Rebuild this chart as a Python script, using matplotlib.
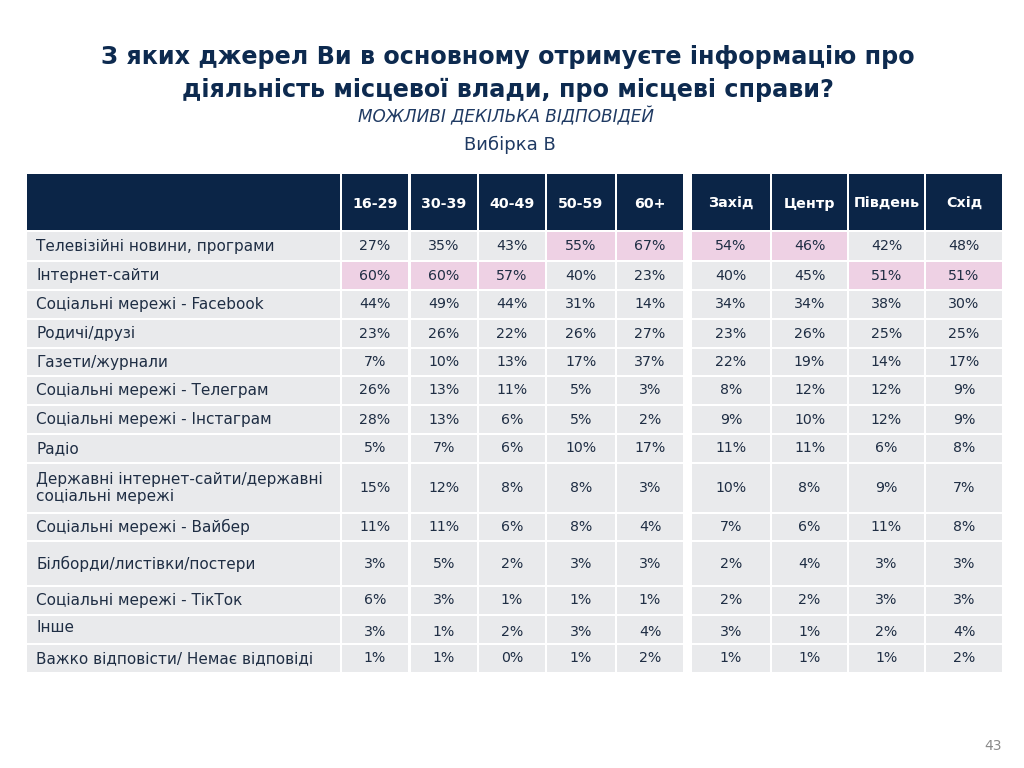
import matplotlib
matplotlib.use("Agg")
import matplotlib.pyplot as plt
from matplotlib.patches import Rectangle

plt.rcParams['font.family'] = ['DejaVu Sans']

# ---------------- data ----------------
title = "З яких джерел Ви в основному отримуєте інформацію про\nдіяльність місцевої влади, про місцеві справи?"
subtitle = "МОЖЛИВІ ДЕКІЛЬКА ВІДПОВІДЕЙ"
sample = "Вибірка В"
page_no = "43"

categories = [
    "Телевізійні новини, програми",
    "Інтернет-сайти",
    "Соціальні мережі - Facebook",
    "Родичі/друзі",
    "Газети/журнали",
    "Соціальні мережі - Телеграм",
    "Соціальні мережі - Інстаграм",
    "Радіо",
    "Державні інтернет-сайти/державні\nсоціальні мережі",
    "Соціальні мережі - Вайбер",
    "Білборди/листівки/постери",
    "Соціальні мережі - ТікТок",
    "Інше",
    "Важко відповісти/ Немає відповіді",
]

age_groups = ["16-29", "30-39", "40-49", "50-59", "60+"]
regions = ["Захід", "Центр", "Південь", "Схід"]

age_16_29 = [27, 60, 44, 23, 7, 26, 28, 5, 15, 11, 3, 6, 3, 1]
age_30_39 = [35, 60, 49, 26, 10, 13, 13, 7, 12, 11, 5, 3, 1, 1]
age_40_49 = [43, 57, 44, 22, 13, 11, 6, 6, 8, 6, 2, 1, 2, 0]
age_50_59 = [55, 40, 31, 26, 17, 5, 5, 10, 8, 8, 3, 1, 3, 1]
age_60p   = [67, 23, 14, 27, 37, 3, 2, 17, 3, 4, 3, 1, 4, 2]

reg_west   = [54, 40, 34, 23, 22, 8, 9, 11, 10, 7, 2, 2, 3, 1]
reg_center = [46, 45, 34, 26, 19, 12, 10, 11, 8, 6, 4, 2, 1, 1]
reg_south  = [42, 51, 38, 25, 14, 12, 12, 6, 9, 11, 3, 3, 2, 1]
reg_east   = [48, 51, 30, 25, 17, 9, 9, 8, 7, 8, 3, 3, 4, 2]

# highlighted cells: (row index, column name)
highlights = [
    (0, "50-59"), (0, "60+"), (0, "Захід"), (0, "Центр"),
    (1, "16-29"), (1, "30-39"), (1, "40-49"), (1, "Південь"), (1, "Схід"),
]

columns = age_groups + regions
values = [age_16_29, age_30_39, age_40_49, age_50_59, age_60p,
          reg_west, reg_center, reg_south, reg_east]

# ---------------- layout / style ----------------
NAVY = "#0b2547"
GRAY = "#e9eaec"
PINK = "#eed1e4"
TXT = "#1f2e44"

label_x0, label_x1 = 27, 340
col_edges = [(342, 408), (411, 477), (479, 545), (547, 615), (617, 683),
             (692, 770), (772, 847), (849, 924), (926, 1002)]
header_y0, header_y1 = 174, 230
row_heights = [28, 27, 27, 27, 26, 27, 27, 27, 48, 26, 43, 27, 27, 27]
gap = 2
# vertical offsets for text inside some rows (label, value)
label_dy = {12: -2}
value_dy = {12: 2}

fig = plt.figure(figsize=(10.24, 7.68), dpi=100)
ax = fig.add_axes([0, 0, 1, 1])
ax.set_xlim(0, 1024)
ax.set_ylim(768, 0)
ax.axis("off")

# titles
fig.text(0.496, 1 - 73.5 / 768, title, ha="center", va="center",
         fontsize=17.2, fontweight="bold", color="#0d2a4f", linespacing=1.42)
fig.text(0.494, 1 - 117 / 768, subtitle, ha="center", va="center",
         fontsize=12.2, style="italic", color="#1f3a63")
fig.text(0.498, 1 - 145 / 768, sample, ha="center", va="center",
         fontsize=13, color="#1f3a63")
fig.text(993 / 1024, 1 - 746 / 768, page_no, ha="center", va="center",
         fontsize=10, color="#8a8a8a")

# header
ax.add_patch(Rectangle((label_x0, header_y0), label_x1 - label_x0,
                       header_y1 - header_y0, facecolor=NAVY, edgecolor="none"))
for name, (x0, x1) in zip(columns, col_edges):
    ax.add_patch(Rectangle((x0, header_y0), x1 - x0, header_y1 - header_y0,
                           facecolor=NAVY, edgecolor="none"))
    ax.text((x0 + x1) / 2, (header_y0 + header_y1) / 2 + 2, name,
            ha="center", va="center", color="white", fontsize=10.3,
            fontweight="bold")

# body
y = header_y1 + gap
hl = set(highlights)
for i, cat in enumerate(categories):
    h = row_heights[i]
    ax.add_patch(Rectangle((label_x0, y), label_x1 - label_x0, h,
                           facecolor=GRAY, edgecolor="none"))
    ax.text(label_x0 + 9, y + h / 2 + label_dy.get(i, 0), cat,
            ha="left", va="center", color=TXT, fontsize=10.95,
            linespacing=1.15)
    for name, (x0, x1), vals in zip(columns, col_edges, values):
        fc = PINK if (i, name) in hl else GRAY
        ax.add_patch(Rectangle((x0, y), x1 - x0, h, facecolor=fc,
                               edgecolor="none"))
        ax.text((x0 + x1) / 2, y + h / 2 + value_dy.get(i, 0),
                f"{vals[i]}%", ha="center", va="center", color=TXT,
                fontsize=10.2)
    y += h + gap

fig.savefig("out.png", dpi=100, facecolor="white")
